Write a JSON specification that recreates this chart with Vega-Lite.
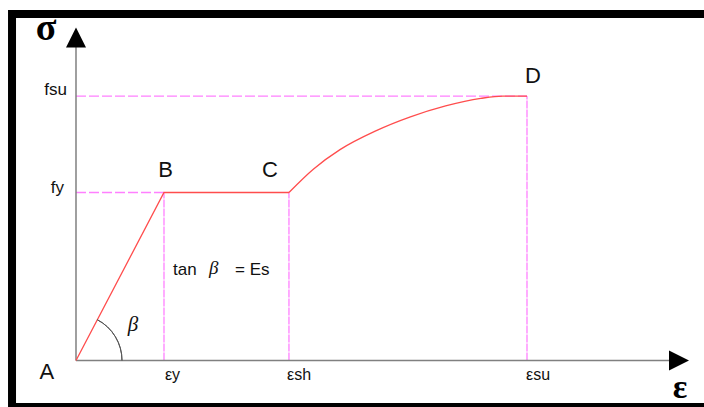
{
  "$schema": "https://vega.github.io/schema/vega-lite/v6.json",
  "description": "Idealised stress-strain curve of reinforcing steel: elastic branch A-B, yield plateau B-C, strain hardening C-D.",
  "width": 704,
  "height": 407,
  "autosize": "none",
  "padding": 0,
  "background": "white",
  "config": {"view": {"stroke": null}},
  "datasets": {
    "frame": [{"x": -0.727, "y": -0.277, "x2": 7.23, "y2": 2.0625}],
    "axes": [
      {"x": 0, "y": 0, "x2": 6.74, "y2": 0},
      {"x": 0, "y": 0, "x2": 0, "y2": 1.866}
    ],
    "arrows": [
      {"x": 0, "y": 1.923, "dir": "up"},
      {"x": 6.852, "y": 0, "dir": "right"}
    ],
    "guides": [
      {"x": 0, "y": 1, "x2": 1, "y2": 1, "orient": "h"},
      {"x": 0, "y": 1.574, "x2": 5.125, "y2": 1.574, "orient": "h"},
      {"x": 1, "y": 0, "x2": 1, "y2": 1, "orient": "v"},
      {"x": 2.42, "y": 0, "x2": 2.42, "y2": 1, "orient": "v"},
      {"x": 5.125, "y": 0, "x2": 5.125, "y2": 1.574, "orient": "v"}
    ],
    "elastic": [
      {"x": 0, "y": 0},
      {"x": 1, "y": 1},
      {"x": 2.42, "y": 1}
    ],
    "hardening": [
      {"x": 2.42, "y": 1},
      {"x": 2.7, "y": 1.14},
      {"x": 3.0, "y": 1.255},
      {"x": 3.4, "y": 1.365},
      {"x": 3.8, "y": 1.45},
      {"x": 4.2, "y": 1.515},
      {"x": 4.6, "y": 1.56},
      {"x": 4.85, "y": 1.574},
      {"x": 5.125, "y": 1.574}
    ],
    "origin": [{"x": 0, "y": 0}],
    "points": [
      {"x": -0.33, "y": -0.11, "text": "A"},
      {"x": 1.017, "y": 1.092, "text": "B"},
      {"x": 2.205, "y": 1.092, "text": "C"},
      {"x": 5.193, "y": 1.652, "text": "D"}
    ],
    "stress": [
      {"x": -0.136, "y": 0.997, "text": "fy"},
      {"x": -0.102, "y": 1.583, "text": "fsu"}
    ],
    "strain": [
      {"x": 1.011, "y": -0.116, "text": "εy"},
      {"x": 2.398, "y": -0.116, "text": "εsh"},
      {"x": 5.114, "y": -0.116, "text": "εsu"}
    ],
    "tanWord": [{"x": 1.102, "y": 0.509, "text": "tan"}],
    "tanBeta": [{"x": 1.511, "y": 0.515, "text": "β"}],
    "tanRest": [{"x": 1.807, "y": 0.509, "text": "= Es"}],
    "angle": [{"x": 0.648, "y": 0.176, "text": "β"}],
    "sigma": [{"x": -0.341, "y": 1.973, "text": "σ"}],
    "epsilon": [{"x": 6.864, "y": -0.164, "text": "ε"}]
  },
  "encoding": {
    "x": {"field": "x", "type": "quantitative", "axis": null, "scale": {"domain": [-0.8636, 7.1364], "nice": false, "zero": false}},
    "y": {"field": "y", "type": "quantitative", "axis": null, "scale": {"domain": [-0.2768, 2.1458], "nice": false, "zero": false}}
  },
  "layer": [
    {
      "data": {"name": "frame"},
      "mark": {"type": "rect", "fill": null, "stroke": "black", "strokeWidth": 8},
      "encoding": {"x2": {"field": "x2"}, "y2": {"field": "y2"}}
    },
    {
      "data": {"name": "guides"},
      "mark": {"type": "rule", "stroke": "#ff80ff", "strokeWidth": 1.3},
      "encoding": {
        "x2": {"field": "x2"},
        "y2": {"field": "y2"},
        "strokeDash": {"field": "orient", "type": "nominal", "legend": null, "scale": {"domain": ["h", "v"], "range": [[10, 3], [8, 1]]}}
      }
    },
    {
      "data": {"name": "axes"},
      "mark": {"type": "rule", "stroke": "#808080", "strokeWidth": 1.5},
      "encoding": {"x2": {"field": "x2"}, "y2": {"field": "y2"}}
    },
    {
      "data": {"name": "arrows"},
      "mark": {"type": "point", "filled": true, "color": "black", "opacity": 1, "size": 400},
      "encoding": {
        "shape": {"field": "dir", "type": "nominal", "legend": null, "scale": {"domain": ["up", "right"], "range": ["M0,-1L-1,1L1,1Z", "M1,0L-1,-1L-1,1Z"]}}
      }
    },
    {
      "data": {"name": "elastic"},
      "mark": {"type": "line", "color": "#ff4d4d", "strokeWidth": 1.3},
      "encoding": {"order": {"field": "x", "type": "quantitative"}}
    },
    {
      "data": {"name": "hardening"},
      "mark": {"type": "line", "color": "#ff4d4d", "strokeWidth": 1.3, "interpolate": "monotone"},
      "encoding": {"order": {"field": "x", "type": "quantitative"}}
    },
    {
      "data": {"name": "origin"},
      "mark": {"type": "arc", "theta": 0.482, "theta2": 1.5708, "radius": 46, "radius2": 46, "fill": null, "stroke": "#555555", "strokeWidth": 1}
    },
    {
      "data": {"name": "points"},
      "mark": {"type": "text", "font": "Liberation Sans", "fontSize": 22, "align": "center", "baseline": "alphabetic", "color": "#111111"},
      "encoding": {"text": {"field": "text"}}
    },
    {
      "data": {"name": "stress"},
      "mark": {"type": "text", "font": "Liberation Sans", "fontSize": 17, "align": "right", "baseline": "alphabetic", "color": "#111111"},
      "encoding": {"text": {"field": "text"}}
    },
    {
      "data": {"name": "strain"},
      "mark": {"type": "text", "font": "Liberation Sans", "fontSize": 16, "align": "left", "baseline": "alphabetic", "color": "#111111"},
      "encoding": {"text": {"field": "text"}}
    },
    {
      "data": {"name": "tanWord"},
      "mark": {"type": "text", "font": "Liberation Sans", "fontSize": 17, "align": "left", "baseline": "alphabetic", "color": "#111111"},
      "encoding": {"text": {"field": "text"}}
    },
    {
      "data": {"name": "tanBeta"},
      "mark": {"type": "text", "font": "Liberation Serif", "fontStyle": "italic", "fontSize": 19, "align": "left", "baseline": "alphabetic", "color": "#111111"},
      "encoding": {"text": {"field": "text"}}
    },
    {
      "data": {"name": "tanRest"},
      "mark": {"type": "text", "font": "Liberation Sans", "fontSize": 17, "align": "left", "baseline": "alphabetic", "color": "#111111"},
      "encoding": {"text": {"field": "text"}}
    },
    {
      "data": {"name": "angle"},
      "mark": {"type": "text", "font": "Liberation Serif", "fontStyle": "italic", "fontSize": 21, "align": "center", "baseline": "alphabetic", "color": "#111111"},
      "encoding": {"text": {"field": "text"}}
    },
    {
      "data": {"name": "sigma"},
      "mark": {"type": "text", "font": "Liberation Serif", "fontWeight": "bold", "fontSize": 38, "align": "center", "baseline": "middle", "color": "black"},
      "encoding": {"text": {"field": "text"}}
    },
    {
      "data": {"name": "epsilon"},
      "mark": {"type": "text", "font": "Liberation Serif", "fontWeight": "bold", "fontSize": 34, "align": "center", "baseline": "middle", "color": "black"},
      "encoding": {"text": {"field": "text"}}
    }
  ]
}
